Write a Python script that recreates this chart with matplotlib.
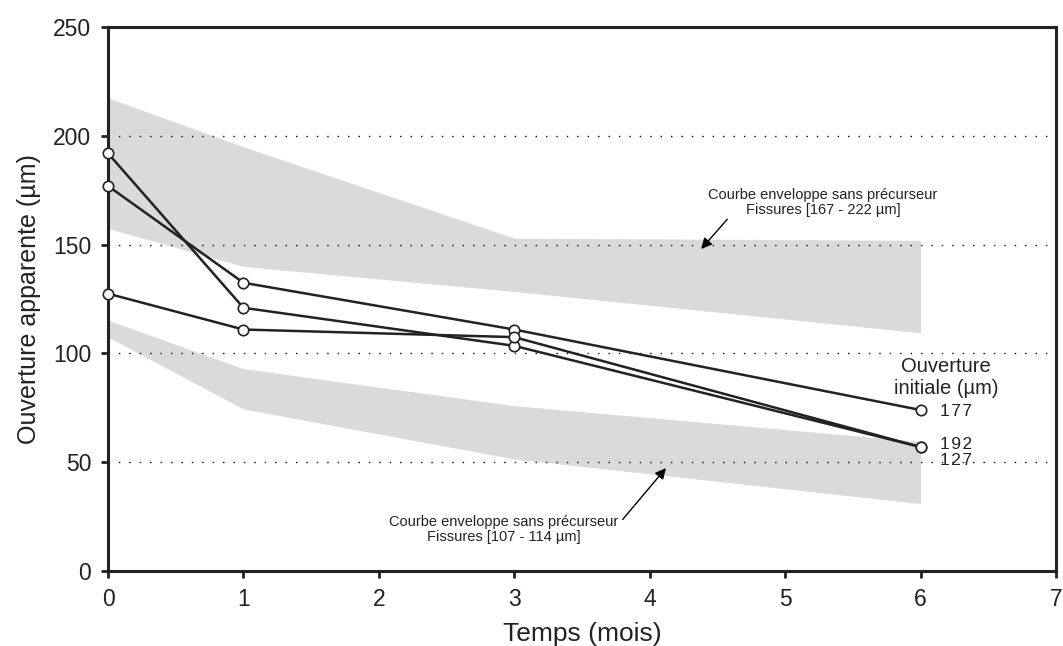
import numpy as np
import matplotlib.pyplot as plt

plt.rcParams['font.family'] = ['Liberation Sans', 'DejaVu Sans']

# Temps (mois)
t = [0, 1, 3, 6]

# measured apparent openings, labelled by initial opening
s192 = [192, 121, 103.5, 57]
s177 = [177, 132.5, 111, 74]
s127 = [127.5, 111, 107.5, 57]

# envelope curves without precursor
env_hi_top = [217.5, 195, 153, 152]
env_hi_bot = [157.5, 140, 128.5, 109.5]
env_lo_top = [115.3, 93, 76, 59.5]
env_lo_bot = [107.5, 74.5, 51.5, 31]

dark = '#222222'
band = '#dadada'

fig = plt.figure(figsize=(10.63, 6.46), dpi=100)
ax = fig.add_axes([0.1016, 0.1161, 0.8918, 0.8419])

ax.fill_between(t, env_hi_bot, env_hi_top, color=band, lw=0, zorder=1)
ax.fill_between(t, env_lo_bot, env_lo_top, color=band, lw=0, zorder=1)

for yy in [50, 100, 150, 200]:
    ax.axhline(yy, color='k', lw=1.0, ls=(0, (1, 6.5)), zorder=2)

for s in [s192, s177, s127]:
    ax.plot(t, s, color=dark, lw=1.8, marker='o', ms=7.5,
            mfc='white', mec=dark, mew=1.2, zorder=4, clip_on=False)

ax.set_xlim(0, 7)
ax.set_ylim(0, 250)
ax.set_xticks(range(8))
ax.set_yticks([0, 50, 100, 150, 200, 250])
ax.tick_params(labelsize=16.5, width=2.0, length=5, color=dark,
               labelcolor=dark)
ax.tick_params(axis='x', pad=7)
ax.tick_params(axis='y', pad=7)
for sp in ax.spines.values():
    sp.set_linewidth(2.2)
    sp.set_color(dark)

ax.set_xlabel('Temps (mois)', fontsize=19, color=dark, labelpad=8)
ax.set_ylabel('Ouverture apparente (µm)', fontsize=18, color=dark, labelpad=9)

# annotations
ax.annotate('Courbe enveloppe sans précurseur\nFissures [167 - 222 µm]',
            xy=(4.38, 148), xytext=(5.28, 169.5), fontsize=10.5,
            color=dark, ha='center', va='center', linespacing=1.05,
            arrowprops=dict(arrowstyle='-|>', color='k', lw=1.0,
                            mutation_scale=16, shrinkA=0, shrinkB=0,
                            relpos=(0.12, 0.25)))
ax.annotate('Courbe enveloppe sans précurseur\nFissures [107 - 114 µm]',
            xy=(4.12, 47.3), xytext=(2.92, 19.1), fontsize=10.5,
            color=dark, ha='center', va='center', linespacing=1.05,
            arrowprops=dict(arrowstyle='-|>', color='k', lw=1.0,
                            mutation_scale=16, shrinkA=0, shrinkB=0,
                            relpos=(1.02, 0.85)))

ax.text(6.19, 89.0, 'Ouverture\ninitiale (µm)', fontsize=14.5, color=dark,
        ha='center', va='center', linespacing=1.25)
ax.text(6.14, 73.3, '1\u200a7\u200a7', fontsize=12.5, color=dark, va='center')
ax.text(6.14, 58.2, '1\u200a9\u200a2', fontsize=12.5, color=dark, va='center')
ax.text(6.14, 50.8, '1\u200a2\u200a7', fontsize=12.5, color=dark, va='center')

fig.savefig('out.png', dpi=100)
